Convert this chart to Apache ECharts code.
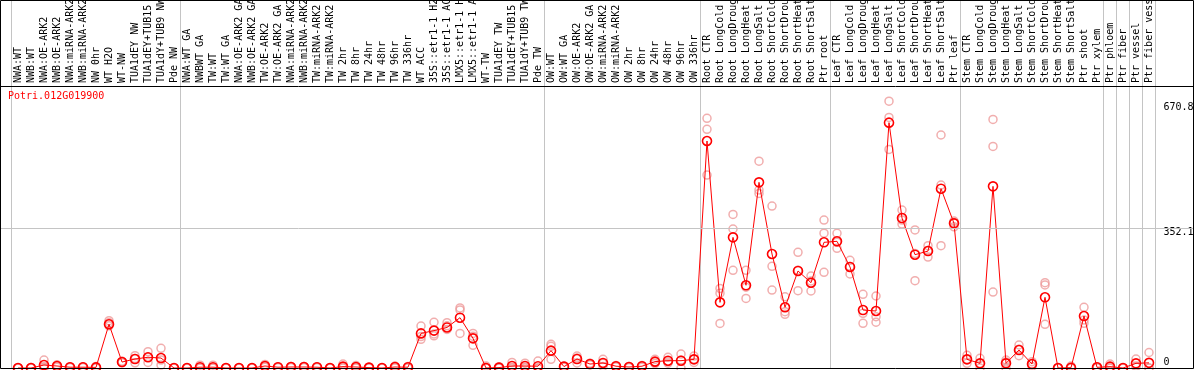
<!DOCTYPE html>
<html><head><meta charset="utf-8">
<script src="https://cdn.jsdelivr.net/npm/echarts@6/dist/echarts.min.js"></script>
<style>html,body{margin:0;padding:0;background:#fff}#c{width:1194px;height:370px}</style>
</head><body><div id="c"></div>
<script>
const geneTitle = 'Potri.012G019900';

const categories = [
  'NWA:WT','NWB:WT','NWA:OE-ARK2','NWB:OE-ARK2','NWA:miRNA-ARK2','NWB:miRNA-ARK2','NW 0hr','WT H2O','WT-NW','TUA1dEY NW','TUA1dEY+TUB15 NW','TUA1dY+TUB9 NW','Pde NW',
  'NWA:WT GA','NWBWT GA','TW:WT','TW:WT GA','NWA:OE-ARK2 GA','NWB:OE-ARK2 GA','TW:OE-ARK2','TW:OE-ARK2 GA','NWA:miRNA-ARK2 GA','NWB:miRNA-ARK2 GA','TW:miRNA-ARK2','TW:miRNA-ARK2 GA',
  'TW 2hr','TW 8hr','TW 24hr','TW 48hr','TW 96hr','TW 336hr','WT ACC','35S::etr1-1 H2O','35S::etr1-1 ACC','LMX5::etr1-1 H2O','LMX5::etr1-1 ACC','WT-TW','TUA1dEY TW','TUA1dEY+TUB15 TW','TUA1dY+TUB9 TW','Pde TW',
  'OW:WT','OW:WT GA','OW:OE-ARK2','OW:OE-ARK2 GA','OW:miRNA-ARK2','OW:miRNA-ARK2 GA','OW 2hr','OW 8hr','OW 24hr','OW 48hr','OW 96hr','OW 336hr',
  'Root CTR','Root LongCold','Root LongDrought','Root LongHeat','Root LongSalt','Root ShortCold','Root ShortDrought','Root ShortHeat','Root ShortSalt','Ptr root',
  'Leaf CTR','Leaf LongCold','Leaf LongDrought','Leaf LongHeat','Leaf LongSalt','Leaf ShortCold','Leaf ShortDrought','Leaf ShortHeat','Leaf ShortSalt','Ptr leaf',
  'Stem CTR','Stem LongCold','Stem LongDrought','Stem LongHeat','Stem LongSalt','Stem ShortCold','Stem ShortDrought','Stem ShortHeat','Stem ShortSalt','Ptr shoot',
  'Ptr xylem','Ptr phloem','Ptr fiber','Ptr vessel','Ptr fiber vessel'
];

const means = [
  0,0,7.5,5,2,2,1.5,110,15,22.6,27,25,0,
  0,2,2,0,0,0,5,2,2.5,2.5,2,0,3.5,2.5,1,0,2.5,2,87,94,102,126.5,74.6,0,1,5,5,4.5,
  43.6,3.5,22.6,10,12.6,4.5,2.5,4.5,16,18.4,18.4,21.8,
  570.7,165,328.5,208,466.8,286.6,152.6,243.9,214.5,316,
  318.5,254,145.8,143.3,616.8,377,284.9,294,450.8,363.7,
  21.8,11.7,456.7,11.7,45.2,10,177.7,0,0.8,130.7,
  1.7,3.4,0,11.7,13
];

const rep1 = [
  0,0,20,8,3,3,4,119,15,31,41,49.5,0,
  0,7,7,0,0,0,9,3,4,4,3,0,10,6,2,0,5,4,105.6,115,114,151,87,5,3,14,12,17.6,
  59.5,5,30,12,21.8,6,4,6,21.8,27,35,30,
  627.7,200,386,245.6,520,407,179,290.8,231,372,
  338.6,270.7,185.3,181,670.8,397,347,307.5,585.8,369.6,
  31.8,24.3,625,20,57.8,15.9,214.5,0,5,152.6,
  3,10,0,22.6,39
];
const rep2 = [
  0,0,3,5,2,2,1,114,17,24,27,20,0,
  0,0,0,0,0,0,4,2,2,2,2,0,1,1,1,0,2,2,79,85.5,106,146,80,0,0,1,2,0,
  54.5,3,25,10,12,4,2,5,16,16,20,21.8,
  600,188,349.5,175,447.5,255.6,141.6,194.4,193.6,339,
  300.9,236.3,137.5,129,630,362,219.5,279,460,366,
  21.8,11,557,15,47,10,208.7,0,0,120.7,
  1.5,0,0,5,0
];
const rep3 = [
  0,1,0,2,1,1,0,106,13,13,14,7.5,0,
  0,0,0,0,0,0,2,1,1,1,1,0,0,0,0,0,0,0,72,81,97,87,57,0,0,0,0,0,
  21.8,2,12.6,8,4,3,1,2,11,12,0,14,
  485,112,245.6,203,439,196,135,246,219,240.6,
  316,255,112.4,115,549.6,372,288,295.5,307.5,355,
  11.7,0,191,0,31,4,109.8,0,0,112.4,
  0.5,0,0,3,0
];

// category indices whose left edge carries a group separator
const separatorIdx = [0,13,41,53,63,73,84,85,86,87];
const yTickValues = [0, 352.1, 670.8];
const yGridValues = [352.1];

const FONT = 'DejaVu Sans Mono';
const Y_MAX = 709;
const sepSet = new Set(separatorIdx);

const chart = echarts.init(document.getElementById('c'), null, {renderer: 'canvas'});

const repStyle = {color: 'rgba(0,0,0,0)', borderColor: '#ee9a9a', borderWidth: 1.5};
const repSeries = [rep1, rep2, rep3].map(r => ({
  type: 'scatter', xAxisIndex: 0, yAxisIndex: 0, data: r,
  symbol: 'circle', symbolSize: 8, itemStyle: repStyle, z: 2, silent: true
}));

const option = {
  animation: false,
  title: {
    text: geneTitle, left: 8, top: 91, padding: 0,
    textStyle: {color: '#ff0000', fontFamily: FONT, fontSize: 10, fontWeight: 'normal'}
  },
  grid: [
    {left: 11.5, width: 1144, top: 86, bottom: 2, outerBoundsMode: 'none', containLabel: false},
    {left: 11.5, width: 1144, top: 0, bottom: 2, outerBoundsMode: 'none', containLabel: false},
    {left: 0, width: 1194, top: 86, bottom: 2, outerBoundsMode: 'none', containLabel: false}
  ],
  xAxis: [
    {gridIndex: 0, type: 'category', data: categories, position: 'top', boundaryGap: true,
     axisLine: {show: false}, axisTick: {show: false}, splitLine: {show: false},
     axisLabel: {interval: 0, rotate: 90, margin: 3, fontFamily: FONT, fontSize: 10, color: '#000', hideOverlap: false}},
    {gridIndex: 1, type: 'category', data: categories, boundaryGap: true,
     axisLine: {show: false}, axisTick: {show: false}, axisLabel: {show: false},
     splitLine: {show: true, interval: (i) => sepSet.has(i), lineStyle: {color: '#c4c4c4', width: 1}}},
    {gridIndex: 2, type: 'value', min: 0, max: 1, show: false}
  ],
  yAxis: [
    {gridIndex: 0, type: 'value', min: 0, max: Y_MAX, position: 'right',
     axisLine: {show: false}, axisTick: {show: false, customValues: yTickValues}, splitLine: {show: false},
     axisLabel: {
       customValues: yTickValues, margin: 8, fontFamily: FONT, fontSize: 10, color: '#000',
       formatter: v => (v === 0 ? '{b|0}' : (v > 500 ? '{h|' + v + '}' : '{m|' + v + '}')),
       rich: {
         b: {fontFamily: FONT, fontSize: 10, color: '#000', padding: [0, 0, 12, 0]},
         h: {fontFamily: FONT, fontSize: 10, color: '#000', padding: [13, 0, 0, 0]},
         m: {fontFamily: FONT, fontSize: 10, color: '#000', padding: [8, 0, 0, 0]}
       }
     }},
    {gridIndex: 1, type: 'value', show: false, splitLine: {show: false}},
    {gridIndex: 2, type: 'value', min: 0, max: Y_MAX, show: false, splitLine: {show: false}}
  ],
  graphic: [
    {type: 'rect', z: 100, silent: true, shape: {x: 0.5, y: 0.5, width: 1193, height: 368},
     style: {fill: 'none', stroke: '#000', lineWidth: 1}},
    {type: 'line', z: 100, silent: true, shape: {x1: 0, y1: 86.5, x2: 1194, y2: 86.5},
     style: {stroke: '#000', lineWidth: 1}}
  ],
  series: [
    {type: 'line', xAxisIndex: 2, yAxisIndex: 2, data: yGridValues.map(v => [0.5, v]),
     symbol: 'none', lineStyle: {opacity: 0}, silent: true, z: 1,
     markLine: {silent: true, symbol: 'none', label: {show: false},
       lineStyle: {color: '#c4c4c4', type: 'solid', width: 1},
       data: yGridValues.map(v => ({yAxis: v}))}},
    ...repSeries,
    {type: 'line', xAxisIndex: 0, yAxisIndex: 0, data: means, z: 3, silent: true,
     symbol: 'circle', symbolSize: 9, showAllSymbol: true,
     lineStyle: {color: '#ff0000', width: 1},
     itemStyle: {color: 'rgba(0,0,0,0)', borderColor: '#ff0000', borderWidth: 1.6}}
  ]
};
chart.setOption(option);
</script>
</body></html>
